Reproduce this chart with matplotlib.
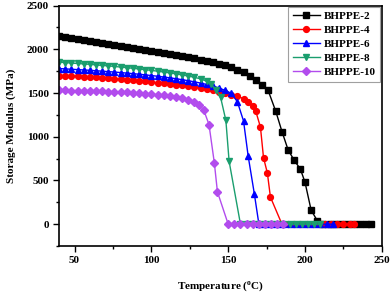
import matplotlib
matplotlib.use("Agg")
import matplotlib.pyplot as plt
from matplotlib.ticker import MultipleLocator

plt.rcParams['font.family'] = ['Liberation Serif', 'DejaVu Serif']
plt.rcParams['font.weight'] = 'bold'
plt.rcParams['mathtext.fontset'] = 'custom'
plt.rcParams['mathtext.rm'] = 'Liberation Serif:bold'
plt.rcParams['mathtext.bf'] = 'Liberation Serif:bold'

# BHPPE-2
t2 = [40, 44, 48, 52, 56, 60, 64, 68, 72, 76, 80, 84, 88, 92, 96, 100, 104, 108, 112, 116,
      120, 124, 128, 132, 136, 140, 144, 148, 152, 156, 160, 164, 168, 172, 176, 181, 185,
      189, 193, 197, 200, 204, 208, 212, 216, 220, 224, 228, 232, 236, 240, 243]
e2 = [2150, 2138, 2127, 2116, 2105, 2094, 2083, 2072, 2061, 2050, 2040, 2029, 2018, 2007,
      1996, 1985, 1974, 1962, 1950, 1938, 1925, 1912, 1898, 1883, 1868, 1852, 1835, 1815,
      1793, 1768, 1738, 1700, 1650, 1590, 1530, 1290, 1060, 850, 730, 630, 480, 160, 40,
      0, 0, 0, 0, 0, 0, 0, 0, 0]

# BHPPE-4
t4 = [40, 44, 48, 52, 56, 60, 64, 68, 72, 76, 80, 84, 88, 92, 96, 100, 104, 108, 112, 116,
      120, 124, 128, 132, 136, 140, 144, 148, 152, 156, 160, 163, 166, 168, 171, 173, 175.5,
      177.5, 185, 189, 193, 197, 201, 205, 209, 213, 217, 221, 225, 229, 232]
e4 = [1700, 1697, 1694, 1690, 1686, 1682, 1678, 1673, 1668, 1663, 1657, 1651, 1645, 1639,
      1632, 1625, 1618, 1611, 1603, 1595, 1587, 1578, 1568, 1557, 1545, 1531, 1516, 1500,
      1483, 1465, 1435, 1397, 1350, 1290, 1110, 760, 586, 310, 0, 0, 0, 0, 0, 0, 0, 0, 0,
      0, 0, 0, 0]

# BHPPE-6
t6 = [40, 44, 48, 52, 56, 60, 64, 68, 72, 76, 80, 84, 88, 92, 96, 100, 104, 108, 112, 116,
      120, 124, 128, 132, 136, 140, 144, 148, 152, 156, 160, 163, 167, 170, 174, 178, 182,
      186, 190, 194, 198, 202, 206, 210, 214, 218]
e6 = [1780, 1776, 1772, 1768, 1764, 1760, 1755, 1750, 1745, 1740, 1734, 1728, 1722, 1715,
      1708, 1700, 1692, 1683, 1674, 1664, 1653, 1641, 1628, 1614, 1598, 1580, 1558, 1530,
      1497, 1400, 1180, 780, 350, 0, 0, 0, 0, 0, 0, 0, 0, 0, 0, 0, 0, 0]

# BHPPE-8
t8 = [40, 44, 48, 52, 56, 60, 64, 68, 72, 76, 80, 84, 88, 92, 96, 100, 104, 108, 112, 116,
      120, 124, 128, 132, 136, 139, 142, 145, 148.5, 150.6, 158, 162, 166, 170, 174, 178,
      182, 186, 190, 194, 198, 202, 206, 210]
e8 = [1853, 1848, 1843, 1838, 1833, 1828, 1822, 1816, 1810, 1804, 1797, 1790, 1783, 1775,
      1767, 1759, 1750, 1740, 1730, 1719, 1707, 1694, 1680, 1662, 1635, 1600, 1540, 1455,
      1187, 720, 0, 0, 0, 0, 0, 0, 0, 0, 0, 0, 0, 0, 0, 0]

# BHPPE-10
t10 = [40, 44, 48, 52, 56, 60, 64, 68, 72, 76, 80, 84, 88, 92, 96, 100, 104, 108, 112, 116,
       120, 124, 128, 131, 134, 137.5, 141, 143, 150, 154, 158, 162, 166, 170, 174, 178,
       182, 186]
e10 = [1530, 1529, 1528, 1527, 1526, 1524, 1522, 1520, 1517, 1514, 1511, 1507, 1503, 1498,
       1493, 1487, 1480, 1472, 1463, 1452, 1440, 1425, 1400, 1365, 1310, 1140, 700, 370,
       0, 0, 0, 0, 0, 0, 0, 0, 0, 0]

series = [
    ("BHPPE-2", t2, e2, "black", "s", 4),
    ("BHPPE-4", t4, e4, "#ff0000", "o", 4.2),
    ("BHPPE-6", t6, e6, "#0000ff", "^", 4.5),
    ("BHPPE-8", t8, e8, "#1a9e6e", "v", 4.5),
    ("BHPPE-10", t10, e10, "#b24ced", "D", 4),
]

fig = plt.figure(figsize=(3.92, 2.95), dpi=100)
ax = fig.add_axes([0.151, 0.166, 0.823, 0.815])

for name, t, e, c, m, ms in series:
    ax.plot(t, e, color=c, marker=m, markersize=ms, linewidth=1, label=name)

ax.set_xlim(40, 250)
ax.set_ylim(-250, 2500)
ax.xaxis.set_major_locator(MultipleLocator(50))
ax.xaxis.set_minor_locator(MultipleLocator(25))
ax.yaxis.set_major_locator(MultipleLocator(500))
ax.yaxis.set_minor_locator(MultipleLocator(250))
ax.tick_params(which='major', direction='out', length=4, width=1, labelsize=8)
ax.tick_params(which='minor', direction='out', length=2.5, width=1)
for s in ax.spines.values():
    s.set_linewidth(1.2)

ax.set_xlabel(r'Temperature ($\mathrm{^{o}}$C)', fontsize=8, fontweight='bold', labelpad=10)
ax.set_ylabel('Storage Modulus (MPa)', fontsize=8, fontweight='bold', labelpad=8)

leg = ax.legend(loc='upper right', fontsize=8, frameon=True, fancybox=False,
                edgecolor='#888888', handlelength=2.4, borderpad=0.4,
                labelspacing=0.38, handletextpad=0.4, borderaxespad=0.12)
leg.get_frame().set_linewidth(0.8)

fig.savefig("out.png", dpi=100)
